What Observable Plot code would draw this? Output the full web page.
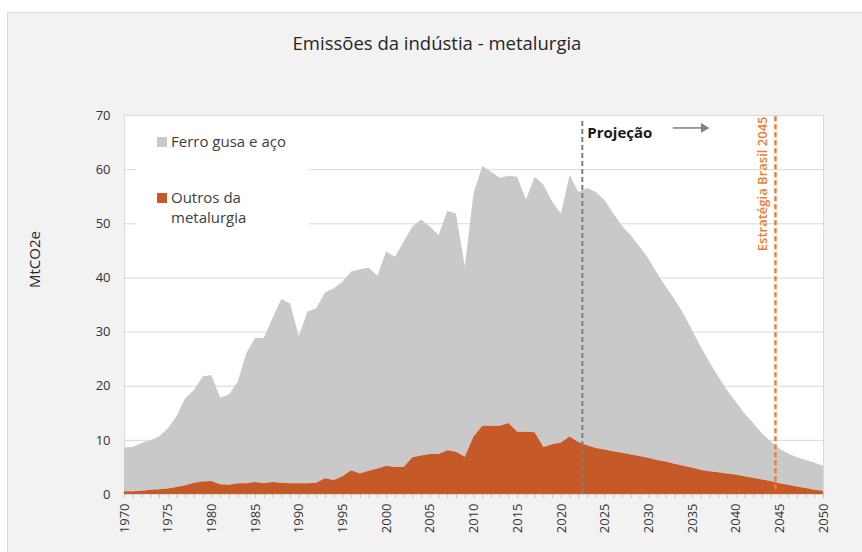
<!DOCTYPE html>
<html><head><meta charset="utf-8">
<script src="https://cdn.jsdelivr.net/npm/d3@7"></script>
<script src="https://cdn.jsdelivr.net/npm/@observablehq/plot@0.6"></script>
<style>
body{margin:0;background:#fff;}
#wrap{position:relative;width:862px;height:552px;overflow:hidden;font-family:"Open Sans",sans-serif;}
#panel{position:absolute;left:7px;top:12px;width:870px;height:560px;background:#f2f2f2;border:1px solid #d9d9d9;box-sizing:border-box;}
#title{position:absolute;left:0;width:874px;top:30px;text-align:center;font-size:18.5px;color:#262626;line-height:26px;}
#chart{position:absolute;left:0;top:0;}
#legend{position:absolute;left:136px;top:122px;width:173px;height:114px;background:#fff;color:#404040;font-size:15px;line-height:20px;}
.sw{position:absolute;width:10px;height:10px;}
.lt{position:absolute;left:35px;white-space:nowrap;}
</style></head>
<body>
<div id="wrap">
  <div id="panel"></div>
  <div id="title">Emissões da indústia - metalurgia</div>
  <div id="chart"></div>
  <div id="legend">
    <div class="sw" style="left:21px;top:15px;background:#c9c9c9"></div>
    <div class="lt" style="top:9px">Ferro gusa e aço</div>
    <div class="sw" style="left:21px;top:71px;background:#c55a28"></div>
    <div class="lt" style="top:65px">Outros da<br>metalurgia</div>
  </div>
</div>
<script>
const years = d3.range(1970, 2051);
// Outros da metalurgia (MtCO2e)
const outros = [
  0.5,0.5,0.6,0.8,0.9,1.0,1.3,1.6,2.1,2.3,
  2.4,1.8,1.7,2.0,2.0,2.2,2.0,2.2,2.1,2.0,
  2.0,2.0,2.1,2.9,2.6,3.3,4.4,3.8,4.3,4.7,
  5.2,5.0,5.0,6.8,7.1,7.4,7.4,8.1,7.8,6.9,
  10.6,12.6,12.6,12.6,13.1,11.5,11.5,11.4,8.7,9.2,
  9.5,10.6,9.6,9.0,8.5,8.2,7.9,7.6,7.3,7.0,
  6.7,6.3,6.0,5.6,5.2,4.9,4.5,4.2,4.0,3.8,
  3.6,3.3,3.0,2.7,2.4,2.0,1.7,1.4,1.1,0.8,
  0.6
];
// Ferro gusa e aço (MtCO2e), stacked above "Outros"
const ferro = [
  8.1,8.2,8.8,9.1,9.7,11.1,13.0,16.1,17.1,19.4,
  19.6,16.0,16.7,18.7,24.0,26.6,26.8,30.3,33.9,33.2,
  27.2,31.7,32.2,34.3,35.4,35.9,36.7,37.7,37.5,35.6,
  39.6,38.8,41.6,42.6,43.6,42.0,40.4,44.2,44.0,35.1,
  44.9,48.0,46.9,45.8,45.7,47.1,42.9,47.2,48.4,44.8,
  42.3,48.3,46.2,47.5,47.3,46.1,43.9,41.9,40.5,38.7,
  36.8,34.5,32.3,30.4,28.2,25.4,22.7,20.2,17.7,15.4,
  13.5,11.6,10.1,8.5,7.3,6.4,5.8,5.4,5.2,5.0,
  4.6
];
const yTicks = [0,10,20,30,40,50,60,70];
const xLabelTicks = d3.range(1970, 2051, 5);
const projYear = [2022.4];
const strategyYear = [2044.5];
const arrowSpan = [{x1: 2032.8, x2: 2036.3, y: 67.7}];

const data = years.map((year, i) => ({year, outros: outros[i], ferro: ferro[i], total: outros[i] + ferro[i]}));

const chart = Plot.plot({
  width: 862, height: 552,
  marginLeft: 124, marginRight: 39, marginTop: 115, marginBottom: 58,
  style: {background: "transparent", fontFamily: "Open Sans", fontSize: "13px", color: "#404040"},
  x: {domain: [1970, 2050]},
  y: {domain: [0, 70]},
  marks: [
    Plot.frame({fill: "white", stroke: "#d9d9d9"}),
    Plot.gridY(yTicks.slice(1, -1), {stroke: "#d9d9d9", strokeOpacity: 1}),
    Plot.areaY(data, {x: "year", y1: "outros", y2: "total", fill: "#c9c9c9"}),
    Plot.areaY(data, {x: "year", y1: 0, y2: "outros", fill: "#c55a28"}),
    Plot.axisX(years, {tickSize: 4, stroke: "#bfbfbf", tickFormat: () => "", label: null}),
    Plot.axisX(xLabelTicks, {tickSize: 0, tickPadding: 9, tickRotate: -90, tickFormat: "d", fontSize: 13, fill: "#333333", label: null}),
    Plot.axisY(yTicks, {tickSize: 0, tickPadding: 14, fontSize: 13, fill: "#333333", label: null}),
    Plot.text(["MtCO2e"], {frameAnchor: "left", rotate: -90, dx: -89, dy: -17, fontSize: 15, fill: "#262626"}),
    Plot.ruleX(projYear, {y1: 0, y2: 69.4, stroke: "#7f7f7f", strokeWidth: 2, strokeDasharray: "5,3"}),
    Plot.text(["Projeção"], {x: projYear, frameAnchor: "top", dx: 5, dy: 12, textAnchor: "start", fontSize: 15, fontWeight: "bold", fill: "#1a1a1a"}),
    Plot.ruleY(arrowSpan, {x1: "x1", x2: "x2", y: "y", stroke: "#7f7f7f", strokeWidth: 1.5}),
    Plot.dot(arrowSpan, {x: "x2", y: "y", symbol: "triangle", rotate: 90, r: 3.6, fill: "#7f7f7f", stroke: null}),
    Plot.ruleX(strategyYear, {y1: 0.9, y2: 70, stroke: "#ed7d31", strokeWidth: 2.5, strokeDasharray: "5,3"}),
    Plot.text(["Estratégia Brasil 2045"], {x: strategyYear, frameAnchor: "top", rotate: -90, textAnchor: "end", dx: -18, dy: 1, fontSize: 13, fontWeight: 600, fill: "#ed7d31"})
  ]
});
document.getElementById("chart").appendChild(chart);
</script>
</body></html>
